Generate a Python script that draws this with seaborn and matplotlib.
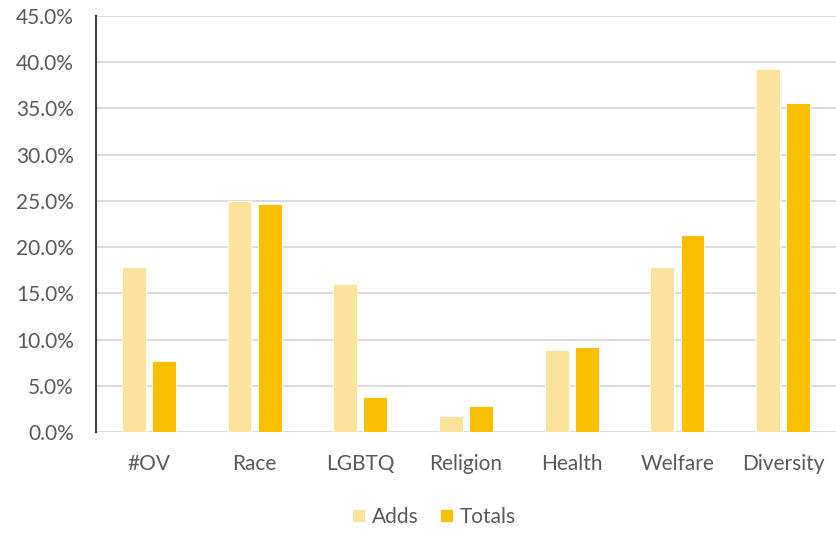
import pandas as pd
import matplotlib.pyplot as plt
import seaborn as sns
from matplotlib.ticker import PercentFormatter

# data
categories = ['#OV', 'Race', 'LGBTQ', 'Religion', 'Health', 'Welfare', 'Diversity']
adds = [17.9, 25.0, 16.0, 1.7, 8.9, 17.9, 39.3]
totals = [7.7, 24.7, 3.8, 2.8, 9.2, 21.3, 35.6]

df = pd.DataFrame({'category': categories * 2,
                   'value': adds + totals,
                   'series': ['Adds'] * len(categories) + ['Totals'] * len(categories)})

sns.set_style('white')
plt.rcParams['font.family'] = ['Lato', 'DejaVu Sans']

fig = plt.figure(figsize=(8.36, 5.33), dpi=100)
ax = fig.add_axes([96 / 836, 1 - 432 / 533, 740 / 836, 416 / 533])

sns.barplot(data=df, x='category', y='value', hue='series', ax=ax,
            palette=['#FCE39C', '#FABF00'], saturation=1, width=0.57, gap=0.21,
            edgecolor='white', linewidth=0.6, legend=True)

ax.set_ylim(0, 45)
ax.set_yticks(range(0, 46, 5))
ax.yaxis.set_major_formatter(PercentFormatter(decimals=1))
ax.set_xlim(-0.5, len(categories) - 0.5)
ax.grid(axis='y', color='#D9D9D9', linewidth=1.3)
ax.set_axisbelow(True)
ax.set_xlabel('')
ax.set_ylabel('')

for s in ['top', 'right', 'bottom']:
    ax.spines[s].set_visible(False)
ax.spines['left'].set_color('#404040')
ax.spines['left'].set_linewidth(1.5)

ax.tick_params(axis='x', length=0, labelsize=15, labelcolor='#595959', pad=16)
ax.tick_params(axis='y', length=0, labelsize=15, labelcolor='#595959', pad=16)

ax.legend(loc='center', bbox_to_anchor=(434 / 836, 1 - 517 / 533),
          bbox_transform=fig.transFigure, ncol=2, frameon=False,
          fontsize=15, labelcolor='#595959', handlelength=0.63, handleheight=0.63,
          handletextpad=0.33, columnspacing=1.0)

fig.savefig('out.png', dpi=100)
